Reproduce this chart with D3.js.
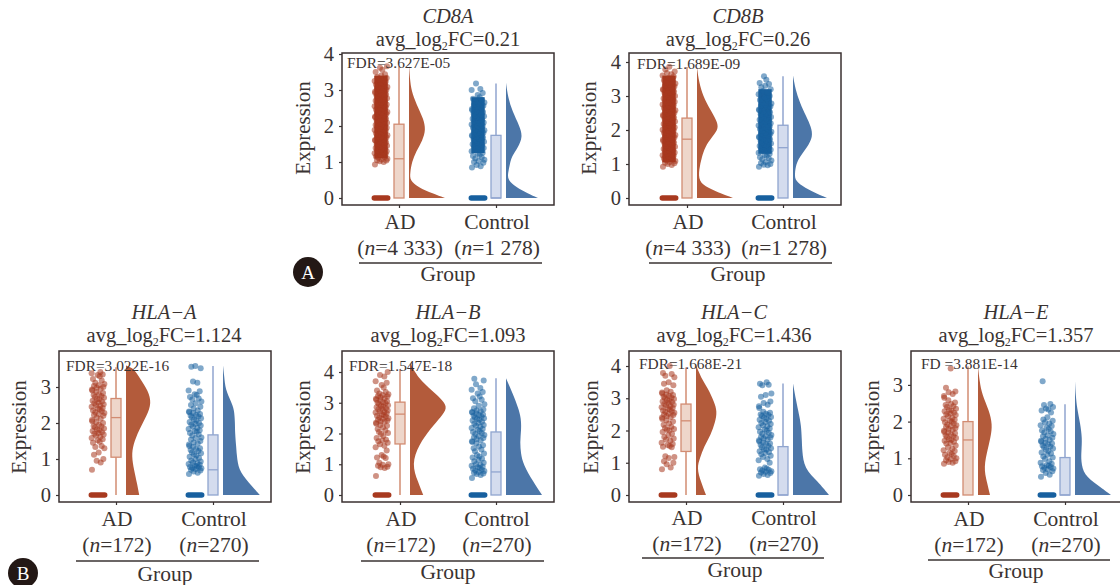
<!DOCTYPE html>
<html lang="en">
<head>
<meta charset="utf-8">
<title>Raincloud plots</title>
<style>
  body { margin: 0; background: #fff; }
  svg { display: block; font-family: "Liberation Serif", serif; }
  text { fill: #3a3332; }
  .axis path { display: none; }
  .axis line { stroke: #3a3332; stroke-width: 1.2; }
  .axis text { font-size: 20.5px; font-family: "Liberation Serif", serif; fill: #3a3332; }
  .frame { fill: none; stroke: #3a3030; stroke-width: 1.5; }
</style>
<script src="https://d3js.org/d3.v7.min.js"></script>
</head>
<body>
<svg width="1120" height="585"></svg>
<script>
// values
var groups = ["AD", "Control"];
var genes = ["CD8A", "CD8B", "HLA\u2212A", "HLA\u2212B", "HLA\u2212C", "HLA\u2212E"];
var foldChanges = ["0.21", "0.26", "1.124", "1.093", "1.436", "1.357"];
var fdrLabels = ["FDR=3.627E-05", "FDR=1.689E-09", "FDR=3.022E-16", "FDR=1.547E-18", "FDR=1.668E-21", "FD =3.881E-14"];
var adCounts = ["4 333", "4 333", "172", "172", "172", "172"];
var controlCounts = ["1 278", "1 278", "270", "270", "270", "270"];
var yTicks = [[0, 1, 2, 3, 4], [0, 1, 2, 3, 4], [0, 1, 2, 3], [0, 1, 2, 3, 4], [0, 1, 2, 3, 4], [0, 1, 2, 3]];

// jitter pattern for the points, -1 to 1
var jitter = [-0.9, 0.4, -0.2, 0.8, -0.6, 0.1, 0.95, -0.4, 0.55, -0.75, 0.25, -0.05, 0.7, -0.95, 0.35, -0.3, 0.85, -0.55, 0.05, 0.6, -0.8, 0.2, -0.15, 0.9, -0.45, 0.5, -0.65, 0.15, 0.75, -0.25, -0.85];

// expression values of the non-zero cells
var cd8aAdValues = [0.93,1.0,1.02,1.04,1.05,1.07,1.09,1.12,1.14,1.15,1.18,1.2,1.22,1.24,1.26,1.29,1.3,1.32,1.35,1.37,1.39,1.4,1.43,1.45,1.47,1.49,1.5,1.53,1.55,1.57,1.6,1.61,1.63,1.66,1.68,1.7,1.71,1.74,1.76,1.78,1.8,1.82,1.84,1.87,1.89,1.9,1.92,1.95,1.97,1.99,2.0,2.03,2.05,2.07,2.09,2.11,2.13,2.16,2.18,2.2,2.22,2.24,2.26,2.29,2.3,2.33,2.35,2.37,2.39,2.41,2.44,2.46,2.48,2.5,2.52,2.55,2.57,2.59,2.6,2.63,2.65,2.68,2.7,2.72,2.74,2.77,2.79,2.81,2.83,2.86,2.88,2.9,2.92,2.95,2.97,2.99,3.01,3.04,3.06,3.08,3.1,3.13,3.15,3.18,3.2,3.23,3.25,3.28,3.3,3.33,3.36,3.4,3.44,3.5,3.56,3.62,3.66];
var cd8aControlValues = [0.85,0.88,0.92,0.98,1.0,1.03,1.06,1.1,1.13,1.17,1.2,1.24,1.26,1.3,1.33,1.36,1.39,1.42,1.44,1.47,1.49,1.52,1.54,1.56,1.59,1.61,1.63,1.65,1.68,1.7,1.72,1.74,1.77,1.79,1.81,1.83,1.86,1.88,1.9,1.92,1.95,1.97,1.99,2.01,2.04,2.06,2.08,2.1,2.13,2.15,2.17,2.2,2.22,2.24,2.27,2.29,2.31,2.34,2.36,2.39,2.41,2.44,2.47,2.5,2.53,2.56,2.59,2.62,2.65,2.68,2.72,2.76,2.8,2.86,2.92,3.0,3.03,3.18];
var cd8bAdValues = [0.92,0.97,1.0,1.02,1.04,1.06,1.09,1.11,1.14,1.16,1.19,1.21,1.24,1.26,1.29,1.31,1.34,1.36,1.39,1.41,1.44,1.46,1.49,1.51,1.54,1.56,1.59,1.61,1.63,1.66,1.68,1.71,1.73,1.75,1.78,1.8,1.82,1.85,1.87,1.9,1.92,1.94,1.97,1.99,2.01,2.04,2.06,2.08,2.11,2.13,2.15,2.18,2.2,2.22,2.25,2.27,2.3,2.32,2.34,2.37,2.39,2.41,2.44,2.46,2.49,2.51,2.53,2.56,2.58,2.61,2.63,2.65,2.68,2.7,2.73,2.75,2.78,2.8,2.83,2.85,2.88,2.9,2.93,2.95,2.98,3.0,3.03,3.05,3.08,3.1,3.13,3.15,3.18,3.2,3.23,3.25,3.28,3.31,3.34,3.37,3.4,3.43,3.46,3.5,3.53,3.57,3.6,3.64,3.68,3.72,3.78,3.86];
var cd8bControlValues = [0.92,0.96,0.98,1.0,1.03,1.06,1.1,1.14,1.17,1.2,1.24,1.27,1.3,1.33,1.36,1.39,1.42,1.45,1.47,1.5,1.53,1.55,1.58,1.6,1.63,1.65,1.68,1.7,1.73,1.75,1.78,1.8,1.83,1.85,1.88,1.9,1.93,1.95,1.98,2.0,2.03,2.05,2.08,2.1,2.13,2.15,2.18,2.2,2.23,2.25,2.28,2.3,2.33,2.36,2.38,2.41,2.44,2.46,2.49,2.52,2.55,2.58,2.6,2.63,2.66,2.69,2.72,2.75,2.78,2.81,2.85,2.88,2.92,2.96,3.0,3.05,3.1,3.15,3.2,3.26,3.3,3.35,3.38,3.48,3.58];
var hlaAAdValues = [0.7,0.9,0.95,1.0,1.12,1.18,1.3,1.33,1.36,1.45,1.48,1.52,1.55,1.58,1.62,1.65,1.68,1.7,1.72,1.75,1.78,1.8,1.82,1.85,1.88,1.9,1.92,1.95,2.0,2.02,2.05,2.08,2.12,2.15,2.2,2.22,2.25,2.28,2.3,2.33,2.35,2.38,2.4,2.42,2.45,2.48,2.5,2.52,2.55,2.57,2.6,2.62,2.65,2.67,2.7,2.72,2.75,2.78,2.8,2.83,2.86,2.9,2.93,2.95,2.98,3.0,3.03,3.05,3.08,3.12,3.18,3.22,3.3,3.33,3.35,3.38,3.42];
var hlaAControlValues = [0.58,0.62,0.65,0.68,0.7,0.72,0.74,0.75,0.77,0.78,0.8,0.82,0.84,0.86,0.88,0.9,0.93,0.96,1.0,1.03,1.06,1.1,1.13,1.16,1.18,1.22,1.25,1.28,1.3,1.33,1.36,1.4,1.43,1.46,1.5,1.54,1.58,1.6,1.65,1.68,1.72,1.76,1.78,1.8,1.83,1.86,1.9,1.93,1.95,1.98,2.0,2.03,2.06,2.1,2.13,2.16,2.18,2.2,2.22,2.25,2.28,2.3,2.32,2.35,2.4,2.45,2.5,2.55,2.6,2.65,2.68,2.72,2.78,2.8,2.88,2.9,3.12,3.15,3.52,3.56,3.58];
var hlaBAdValues = [0.62,0.88,0.9,0.92,0.95,0.98,1.0,1.05,1.2,1.22,1.25,1.3,1.45,1.55,1.6,1.65,1.7,1.75,1.78,1.8,1.85,1.92,1.98,2.02,2.05,2.1,2.15,2.2,2.25,2.28,2.32,2.35,2.38,2.4,2.42,2.45,2.48,2.5,2.52,2.55,2.58,2.6,2.62,2.65,2.68,2.7,2.72,2.75,2.78,2.8,2.82,2.85,2.88,2.9,2.92,2.95,2.98,3.0,3.02,3.05,3.08,3.1,3.13,3.15,3.18,3.2,3.22,3.25,3.28,3.3,3.35,3.4,3.5,3.58,3.65,3.7,3.85,3.9,4.0];
var hlaBControlValues = [0.55,0.65,0.68,0.7,0.72,0.75,0.78,0.8,0.82,0.85,0.88,0.9,0.92,0.95,0.98,1.0,1.05,1.1,1.15,1.18,1.22,1.25,1.3,1.35,1.42,1.48,1.52,1.58,1.62,1.68,1.72,1.75,1.78,1.82,1.85,1.88,1.92,1.95,1.98,2.02,2.05,2.08,2.12,2.15,2.18,2.22,2.25,2.28,2.32,2.35,2.38,2.42,2.45,2.48,2.5,2.52,2.55,2.58,2.6,2.62,2.65,2.68,2.7,2.72,2.75,2.78,2.82,2.9,2.95,3.05,3.1,3.15,3.2,3.3,3.35,3.42,3.48,3.6,3.72,3.78];
var hlaCAdValues = [0.8,0.85,0.95,1.0,1.05,1.15,1.18,1.2,1.48,1.5,1.52,1.55,1.58,1.62,1.68,1.72,1.75,1.8,1.85,1.9,1.95,2.0,2.02,2.05,2.08,2.12,2.18,2.22,2.28,2.32,2.36,2.4,2.42,2.45,2.48,2.5,2.52,2.55,2.58,2.6,2.62,2.65,2.68,2.7,2.72,2.75,2.78,2.8,2.82,2.85,2.88,2.9,2.92,2.95,2.98,3.0,3.02,3.05,3.08,3.1,3.12,3.15,3.18,3.2,3.25,3.4,3.45,3.5,3.65,3.7,3.75,3.78,4.0];
var hlaCControlValues = [0.6,0.62,0.65,0.68,0.7,0.72,0.74,0.76,0.78,0.8,0.82,0.85,1.0,1.08,1.12,1.18,1.22,1.26,1.3,1.33,1.36,1.4,1.42,1.45,1.48,1.52,1.55,1.58,1.6,1.63,1.66,1.7,1.72,1.75,1.78,1.8,1.83,1.86,1.9,1.93,1.96,2.0,2.03,2.06,2.1,2.13,2.16,2.2,2.23,2.26,2.3,2.33,2.36,2.4,2.42,2.45,2.48,2.5,2.52,2.55,2.58,2.7,2.75,2.8,2.85,2.9,3.05,3.1,3.15,3.4,3.42,3.45,3.5];
var hlaEAdValues = [0.85,0.88,0.9,0.92,0.95,0.98,1.0,1.03,1.06,1.1,1.12,1.15,1.2,1.22,1.26,1.3,1.35,1.4,1.42,1.45,1.48,1.5,1.52,1.55,1.58,1.6,1.62,1.65,1.68,1.7,1.72,1.75,1.78,1.8,1.82,1.85,1.88,1.9,1.92,1.95,1.98,2.0,2.03,2.05,2.08,2.1,2.15,2.18,2.2,2.22,2.25,2.28,2.3,2.32,2.35,2.4,2.42,2.45,2.48,2.52,2.58,2.65,2.7,2.75,2.8,2.82,2.92,3.45];
var hlaEControlValues = [0.5,0.55,0.6,0.65,0.68,0.7,0.72,0.74,0.76,0.78,0.8,0.82,0.85,0.88,0.92,0.98,1.02,1.05,1.1,1.13,1.16,1.2,1.24,1.27,1.3,1.32,1.35,1.38,1.4,1.42,1.45,1.48,1.5,1.53,1.56,1.6,1.63,1.66,1.7,1.73,1.76,1.8,1.84,1.88,1.9,1.95,1.98,2.02,2.06,2.12,2.25,2.3,2.33,2.36,2.4,2.45,2.48,3.1];

// where the thousands of overplotted points merge into a solid column: low, high
var adCores = [[1.1, 3.4], [1.05, 3.6], null, null, null, null];
var controlCores = [[1.25, 2.8], [1.3, 3.2], null, null, null, null];

// box stats: lower quartile, median, upper quartile, top of whisker
var cd8aAdBox = [0, 1.09, 2.05, 3.65];
var cd8aControlBox = [0, 0, 1.74, 3.18];
var cd8bAdBox = [0, 1.73, 2.35, 3.85];
var cd8bControlBox = [0, 1.48, 2.14, 3.58];
var hlaAAdBox = [1.05, 2.15, 2.68, 3.55];
var hlaAControlBox = [0, 0.7, 1.67, 3.58];
var hlaBAdBox = [1.66, 2.63, 3.02, 4.1];
var hlaBControlBox = [0, 0.75, 2.05, 3.8];
var hlaCAdBox = [1.35, 2.3, 2.82, 3.95];
var hlaCControlBox = [0, 0, 1.5, 3.46];
var hlaEAdBox = [0, 1.5, 2.0, 3.5];
var hlaEControlBox = [0, 0, 1.02, 2.47];

// density curves: [expression, density], top to bottom
var cd8aAdDensity = [[3.7,0],[3.2,.03],[2.9,.08],[2.5,.23],[2.2,.36],[1.9,.42],[1.6,.34],[1.3,.18],[1,.07],[.7,.03],[.49,.02],[.3,.23],[.12,.6],[0,.9]];
var cd8aControlDensity = [[3.2,0],[2.8,.05],[2.4,.16],[2,.34],[1.7,.42],[1.4,.3],[1.15,.14],[.95,.1],[.7,.05],[.5,.04],[.3,.25],[.12,.55],[0,.8]];
var cd8bAdDensity = [[3.85,0],[3.4,.05],[3,.15],[2.6,.33],[2.3,.48],[2.05,.55],[1.8,.38],[1.5,.2],[1.2,.12],[.85,.05],[.48,.04],[.3,.27],[.12,.62],[0,.9]];
var cd8bControlDensity = [[3.6,0],[3.2,.06],[2.8,.17],[2.4,.33],[2.1,.45],[1.8,.5],[1.5,.36],[1.2,.16],[1,.08],[.7,.04],[.5,.06],[.3,.3],[.12,.6],[0,.85]];
var hlaAAdDensity = [[3.6,0],[3.55,.1],[3.5,.2],[3.2,.37],[2.9,.55],[2.56,.64],[2.2,.52],[1.8,.32],[1.4,.18],[1.08,.14],[.7,.2],[.3,.28],[0,.33]];
var hlaAControlDensity = [[3.6,0],[3.3,.03],[2.93,.06],[2.6,.2],[2.38,.28],[2,.3],[1.73,.3],[1.35,.33],[1,.35],[.62,.42],[.25,.72],[0,.92]];
var hlaBAdDensity = [[4.3,0],[3.8,.2],[3.37,.57],[3.05,.84],[2.82,.93],[2.55,.78],[2.17,.52],[1.63,.22],[1,.04],[.43,.2],[0,.33]];
var hlaBControlDensity = [[3.8,0],[3.26,.18],[2.85,.3],[2.5,.38],[2.1,.38],[1.74,.35],[1.35,.37],[1,.43],[.43,.68],[0,.9]];
var hlaCAdDensity = [[4.03,0],[3.65,.12],[3.3,.3],[2.9,.45],[2.6,.53],[2.25,.48],[1.87,.37],[1.5,.2],[1.15,.1],[.83,.02],[.42,.12],[0,.25]];
var hlaCControlDensity = [[3.46,0],[2.9,.08],[2.5,.15],[2.18,.2],[1.75,.22],[1.35,.23],[.83,.28],[.42,.62],[0,.9]];
var hlaEAdDensity = [[3.5,0],[3.1,.04],[2.74,.1],[2.3,.28],[1.92,.36],[1.6,.32],[1.28,.25],[.74,.14],[.37,.22],[0,.3]];
var hlaEControlDensity = [[3.1,0],[2.7,.02],[2.37,.05],[1.95,.13],[1.55,.18],[1.2,.16],[.92,.15],[.55,.22],[.28,.55],[0,.9]];

var adValues = [cd8aAdValues, cd8bAdValues, hlaAAdValues, hlaBAdValues, hlaCAdValues, hlaEAdValues];
var controlValues = [cd8aControlValues, cd8bControlValues, hlaAControlValues, hlaBControlValues, hlaCControlValues, hlaEControlValues];
var adBoxes = [cd8aAdBox, cd8bAdBox, hlaAAdBox, hlaBAdBox, hlaCAdBox, hlaEAdBox];
var controlBoxes = [cd8aControlBox, cd8bControlBox, hlaAControlBox, hlaBControlBox, hlaCControlBox, hlaEControlBox];
var adDensities = [cd8aAdDensity, cd8bAdDensity, hlaAAdDensity, hlaBAdDensity, hlaCAdDensity, hlaEAdDensity];
var controlDensities = [cd8aControlDensity, cd8bControlDensity, hlaAControlDensity, hlaBControlDensity, hlaCControlDensity, hlaEControlDensity];

// panel placement in the page
var layout = [
  { left: 342, top: 53, bottom: 205, y0: 198, unit: 36, ad: 399, ctrl: 496, titleX: 448, titleY: 23, catY: 229, nY: 255, ruleY: 263, ruleA: 359, ruleB: 542, groupX: 448, groupY: 281, labelX: 303, labelY: 128, fdrX: 347, fdrY: 68 },
  { left: 629, top: 53, bottom: 205, y0: 198, unit: 34, ad: 687, ctrl: 783, titleX: 738, titleY: 23, catY: 229, nY: 255, ruleY: 263, ruleA: 649, ruleB: 832, groupX: 738, groupY: 281, labelX: 589, labelY: 128, fdrX: 637, fdrY: 69 },
  { left: 59, top: 351, bottom: 502, y0: 495, unit: 36, ad: 116, ctrl: 213, titleX: 164, titleY: 319, catY: 526, nY: 552, ruleY: 561, ruleA: 76, ruleB: 259, groupX: 165, groupY: 581, labelX: 19, labelY: 427, fdrX: 66, fdrY: 371 },
  { left: 342, top: 351, bottom: 502, y0: 495, unit: 30.75, ad: 400, ctrl: 496, titleX: 448, titleY: 319, catY: 526, nY: 552, ruleY: 561, ruleA: 361, ruleB: 544, groupX: 448, groupY: 579, labelX: 303, labelY: 427, fdrX: 349, fdrY: 371 },
  { left: 629, top: 351, bottom: 502, y0: 495, unit: 32.25, ad: 686, ctrl: 783, titleX: 734, titleY: 319, catY: 525, nY: 551, ruleY: 558, ruleA: 642, ruleB: 824, groupX: 735, groupY: 577, labelX: 591, labelY: 427, fdrX: 639, fdrY: 369 },
  { left: 911, top: 351, bottom: 502, y0: 495, unit: 36.7, ad: 968, ctrl: 1065, titleX: 1016, titleY: 319, catY: 526, nY: 552, ruleY: 560, ruleA: 928, ruleB: 1110, groupX: 1016, groupY: 578, labelX: 872, labelY: 427, fdrX: 921, fdrY: 369 }
];

var panelWidth = 212;
var colors = {
  AD: { point: "#a8391f", core: "#a63b22", box: "#eed6ca", line: "#d28c72", cloud: "#b35b3b" },
  Control: { point: "#17609f", core: "#1a5f9b", box: "#d4dcee", line: "#90a5cf", cloud: "#4c76a8" }
};

var svg = d3.select("svg");
var jitterX = d3.scaleLinear().domain([-1, 1]).range([-6.7, 6.7]);
var densityX = d3.scaleLinear().domain([0, 1]).range([0, 40]);

layout.forEach(function(p, i) {
  var g = svg.append("g");
  var x = d3.scalePoint().domain(groups).range([p.ad, p.ctrl]);
  var y = d3.scaleLinear()
    .domain([(p.y0 - p.bottom) / p.unit, (p.y0 - p.top) / p.unit])
    .range([p.bottom, p.top]);

  g.append("g").attr("class", "axis")
    .attr("transform", "translate(" + p.left + ",0)")
    .call(d3.axisLeft(y).tickValues(yTicks[i]).tickFormat(d3.format("d")).tickSize(3).tickPadding(5));
  g.append("g").attr("class", "axis")
    .attr("transform", "translate(0," + p.bottom + ")")
    .call(d3.axisBottom(x).tickSize(3).tickFormat(""));

  var series = [
    { name: "AD", values: adValues[i], box: adBoxes[i], density: adDensities[i], core: adCores[i] },
    { name: "Control", values: controlValues[i], box: controlBoxes[i], density: controlDensities[i], core: controlCores[i] }
  ];

  series.forEach(function(s) {
    var c = colors[s.name];
    var cx = x(s.name);
    var rainX = cx - 18;
    var cloudX = cx + 10;

    // the zero cells make a solid bar
    g.append("line")
      .attr("x1", rainX + jitterX(-1)).attr("x2", rainX + jitterX(1))
      .attr("y1", y(0)).attr("y2", y(0))
      .attr("stroke", c.point).attr("stroke-width", 5.5).attr("stroke-linecap", "round");

    if (s.core) {
      g.append("rect")
        .attr("x", rainX + jitterX(-1)).attr("width", jitterX(1) - jitterX(-1))
        .attr("y", y(s.core[1])).attr("height", y(s.core[0]) - y(s.core[1]))
        .attr("fill", c.core);
    }

    g.append("g").selectAll("circle")
      .data(s.values)
      .enter()
      .append("circle")
      .attr("cx", function(d, k) { return rainX + jitterX(jitter[k % jitter.length]); })
      .attr("cy", function(d) { return y(d); })
      .attr("r", 3)
      .attr("fill", c.point)
      .attr("fill-opacity", 0.55);

    g.append("line")
      .attr("x1", cx).attr("x2", cx)
      .attr("y1", y(0)).attr("y2", y(s.box[3]))
      .attr("stroke", c.line).attr("stroke-width", 1.5);
    g.append("rect")
      .attr("x", cx - 5).attr("width", 10)
      .attr("y", y(s.box[2])).attr("height", y(s.box[0]) - y(s.box[2]))
      .attr("fill", c.box).attr("stroke", c.line).attr("stroke-width", 1.3);
    g.append("line")
      .attr("x1", cx - 5).attr("x2", cx + 5)
      .attr("y1", y(s.box[1])).attr("y2", y(s.box[1]))
      .attr("stroke", c.line).attr("stroke-width", 1.3);

    var area = d3.area()
      .y(function(d) { return y(d[0]); })
      .x0(cloudX)
      .x1(function(d) { return cloudX + densityX(d[1]); })
      .curve(d3.curveBasis);
    g.append("path").attr("d", area(s.density)).attr("fill", c.cloud);
  });

  g.append("rect").attr("class", "frame")
    .attr("x", p.left).attr("y", p.top)
    .attr("width", panelWidth).attr("height", p.bottom - p.top);

  g.append("text").attr("x", p.fdrX).attr("y", p.fdrY)
    .attr("font-size", 15.4).text(fdrLabels[i]);

  g.append("text").attr("x", p.titleX).attr("y", p.titleY)
    .attr("text-anchor", "middle").attr("font-size", 20.5).attr("font-style", "italic")
    .text(genes[i]);

  var fc = g.append("text").attr("x", p.titleX).attr("y", p.titleY + 23)
    .attr("text-anchor", "middle").attr("font-size", 20.5);
  fc.append("tspan").text("avg_log");
  fc.append("tspan").attr("font-size", 12).attr("dy", 4).text("2");
  fc.append("tspan").attr("dy", -4).text("FC=" + foldChanges[i]);

  g.append("text")
    .attr("transform", "translate(" + (p.labelX + 7) + "," + p.labelY + ") rotate(-90)")
    .attr("text-anchor", "middle").attr("font-size", 21)
    .text("Expression");

  var counts = [adCounts[i], controlCounts[i]];
  groups.forEach(function(name, k) {
    g.append("text").attr("x", x(name) + 1).attr("y", p.catY)
      .attr("text-anchor", "middle").attr("font-size", 21.5).text(name);
    var n = g.append("text").attr("x", x(name) + 1).attr("y", p.nY)
      .attr("text-anchor", "middle").attr("font-size", 21.5);
    n.append("tspan").text("(");
    n.append("tspan").attr("font-style", "italic").text("n");
    n.append("tspan").text("=" + counts[k] + ")");
  });

  g.append("line")
    .attr("x1", p.ruleA).attr("x2", p.ruleB)
    .attr("y1", p.ruleY).attr("y2", p.ruleY)
    .attr("stroke", "#3a3332").attr("stroke-width", 1.3);
  g.append("text").attr("x", p.groupX).attr("y", p.groupY)
    .attr("text-anchor", "middle").attr("font-size", 21.5).text("Group");
});

// panel letters
var badges = [{ t: "A", x: 308, y: 272 }, { t: "B", x: 23, y: 573 }];
badges.forEach(function(b) {
  svg.append("circle").attr("cx", b.x).attr("cy", b.y).attr("r", 15).attr("fill", "#231815");
  svg.append("text").attr("x", b.x).attr("y", b.y + 6.5)
    .attr("text-anchor", "middle").attr("font-size", 19).style("fill", "#fff").text(b.t);
});
</script>
</body>
</html>
